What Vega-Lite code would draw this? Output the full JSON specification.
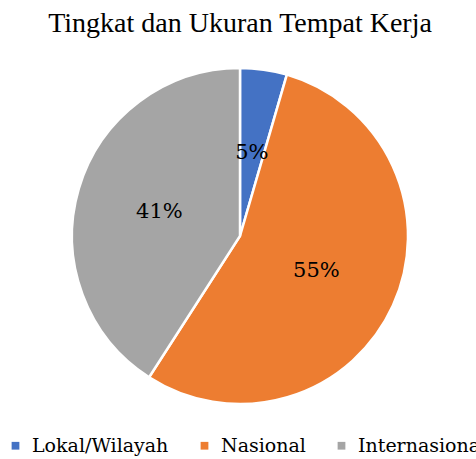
{
  "$schema": "https://vega.github.io/schema/vega-lite/v6.json",
  "width": 476,
  "height": 459,
  "autosize": {"type": "fit", "contains": "padding"},
  "padding": {"top": 10, "bottom": 3, "left": 6, "right": 2},
  "background": "white",
  "title": {
    "text": "Tingkat dan Ukuran Tempat Kerja",
    "font": "Liberation Serif",
    "fontSize": 28,
    "fontWeight": "normal",
    "color": "#000000",
    "anchor": "middle",
    "offset": 10
  },
  "data": {
    "values": [
      {"kategori": "Lokal/Wilayah", "nilai": 4.5, "label": "5%", "urut": 1},
      {"kategori": "Nasional", "nilai": 54.6, "label": "55%", "urut": 2},
      {"kategori": "Internasional", "nilai": 40.9, "label": "41%", "urut": 3}
    ]
  },
  "encoding": {
    "theta": {"field": "nilai", "type": "quantitative", "stack": true},
    "order": {"field": "urut", "type": "quantitative"},
    "color": {
      "field": "kategori",
      "type": "nominal",
      "scale": {
        "domain": ["Lokal/Wilayah", "Nasional", "Internasional"],
        "range": ["#4472C4", "#ED7D31", "#A5A5A5"]
      },
      "legend": {
        "orient": "bottom",
        "direction": "horizontal",
        "title": null,
        "symbolType": "square",
        "symbolSize": 60,
        "symbolStrokeWidth": 0,
        "labelFont": "DejaVu Serif",
        "labelFontSize": 19,
        "labelColor": "#000000",
        "columnPadding": 26,
        "labelOffset": 7,
        "offset": 12
      }
    }
  },
  "layer": [
    {
      "mark": {"type": "arc", "outerRadius": 168, "stroke": "white", "strokeWidth": 2.5}
    },
    {
      "mark": {"type": "text", "radius": 84, "fontSize": 21, "font": "DejaVu Serif"},
      "encoding": {
        "text": {"field": "label", "type": "nominal"},
        "color": {"value": "#000000"}
      }
    }
  ],
  "config": {
    "view": {"stroke": null}
  }
}
